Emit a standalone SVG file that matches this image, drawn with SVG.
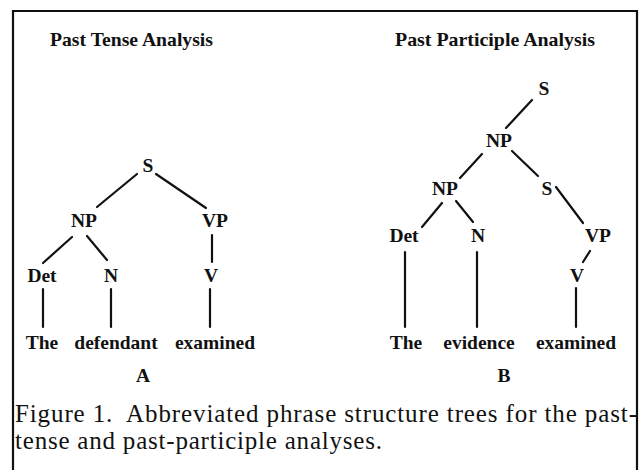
<svg xmlns="http://www.w3.org/2000/svg" width="641" height="470" viewBox="0 0 641 470">
<style>
.lbl{font-family:"Liberation Serif","Times New Roman",serif;font-weight:bold;font-size:19.5px;fill:#111;text-anchor:middle}
.ttl{font-family:"Liberation Serif","Times New Roman",serif;font-weight:bold;font-size:19px;fill:#111}
.cap{font-family:"Liberation Serif","Times New Roman",serif;font-size:25px;fill:#111}
.edge{stroke:#111;stroke-width:2.2;stroke-linecap:round;fill:none}
.frame{stroke:#111;stroke-width:2.2;fill:none}
</style>
<rect width="641" height="470" fill="#fff"/>
<g id="frame">
<path class="frame" d="M13,470 V11 H637 V470"/>
</g>
<g id="titles">
<text class="ttl" x="50" y="46" textLength="163" lengthAdjust="spacingAndGlyphs">Past Tense Analysis</text>
<text class="ttl" x="395" y="46" textLength="200" lengthAdjust="spacingAndGlyphs">Past Participle Analysis</text>
</g>
<g id="connectors">
<line class="edge" x1="137" y1="174" x2="97" y2="207"/>
<line class="edge" x1="156" y1="174" x2="206" y2="208"/>
<line class="edge" x1="72" y1="237" x2="43" y2="263"/>
<line class="edge" x1="87" y1="236" x2="107" y2="260"/>
<line class="edge" x1="212" y1="235" x2="212" y2="262"/>
<line class="edge" x1="43" y1="289" x2="43" y2="327"/>
<line class="edge" x1="111" y1="289" x2="111" y2="327"/>
<line class="edge" x1="210" y1="289" x2="210" y2="327"/>
<line class="edge" x1="532" y1="100" x2="506" y2="128"/>
<line class="edge" x1="482" y1="154" x2="460" y2="178"/>
<line class="edge" x1="512" y1="151" x2="538" y2="176"/>
<line class="edge" x1="556" y1="187" x2="583" y2="223"/>
<line class="edge" x1="442" y1="203" x2="422" y2="227"/>
<line class="edge" x1="456" y1="201" x2="473" y2="222"/>
<line class="edge" x1="590" y1="251" x2="583" y2="262"/>
<line class="edge" x1="405" y1="252" x2="405" y2="327"/>
<line class="edge" x1="477" y1="252" x2="477" y2="327"/>
<line class="edge" x1="576" y1="288" x2="576" y2="327"/>
</g>
<g id="treeA">
<g id="a-S"><text class="lbl" x="148" y="172">S</text></g>
<g id="a-NP"><text class="lbl" x="84" y="227">NP</text></g>
<g id="a-VP"><text class="lbl" x="215" y="227">VP</text></g>
<g id="a-Det"><text class="lbl" x="42" y="282">Det</text></g>
<g id="a-N"><text class="lbl" x="111" y="282">N</text></g>
<g id="a-V"><text class="lbl" x="211" y="282">V</text></g>
<g id="a-The"><text class="lbl" x="42" y="349">The</text></g>
<g id="a-defendant"><text class="lbl" x="116" y="349">defendant</text></g>
<g id="a-examined"><text class="lbl" x="215" y="349">examined</text></g>
<g id="a-label"><text class="lbl" x="143" y="382">A</text></g>
</g>
<g id="treeB">
<g id="b-S"><text class="lbl" x="544" y="95">S</text></g>
<g id="b-NP"><text class="lbl" x="499" y="147">NP</text></g>
<g id="b-NP2"><text class="lbl" x="445" y="195">NP</text></g>
<g id="b-S2"><text class="lbl" x="547" y="195">S</text></g>
<g id="b-Det"><text class="lbl" x="404" y="242">Det</text></g>
<g id="b-N"><text class="lbl" x="478" y="242">N</text></g>
<g id="b-VP"><text class="lbl" x="598" y="242">VP</text></g>
<g id="b-V"><text class="lbl" x="577" y="282">V</text></g>
<g id="b-The"><text class="lbl" x="406" y="349">The</text></g>
<g id="b-evidence"><text class="lbl" x="479" y="349">evidence</text></g>
<g id="b-examined"><text class="lbl" x="576" y="349">examined</text></g>
<g id="b-label"><text class="lbl" x="504" y="382">B</text></g>
</g>
<g id="caption">
<text class="cap" x="15" y="422" xml:space="preserve" textLength="622" lengthAdjust="spacing">Figure 1.  Abbreviated phrase structure trees for the past-</text>
<text class="cap" x="15" y="449" textLength="367" lengthAdjust="spacing">tense and past-participle analyses.</text>
</g>
</svg>
